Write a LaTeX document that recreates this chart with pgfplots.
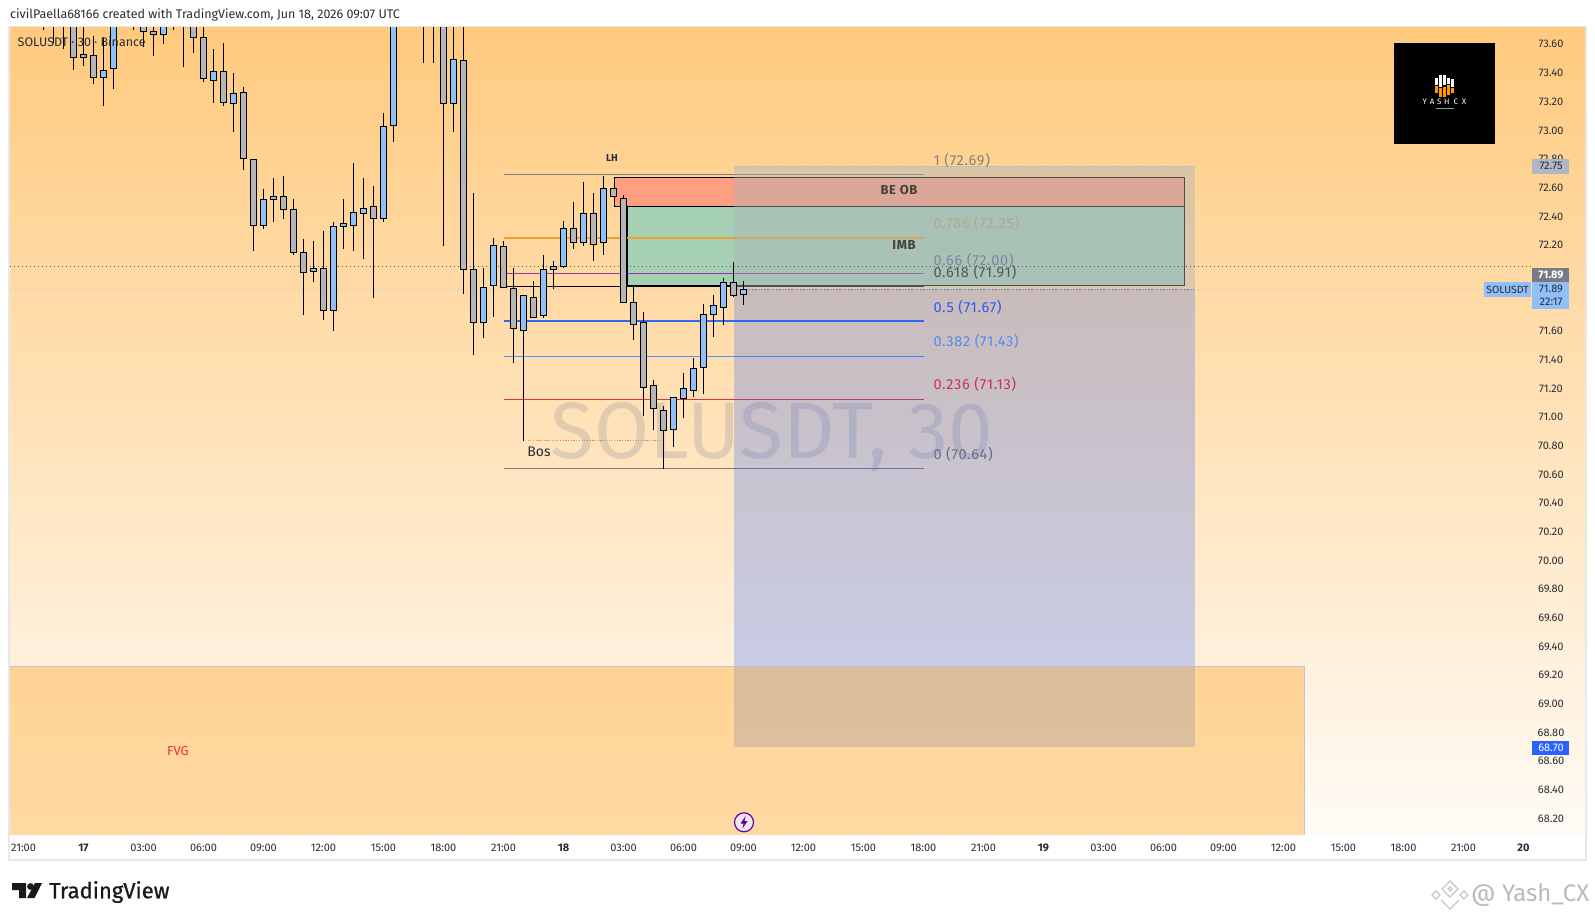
\documentclass[border=0pt]{standalone}
\usepackage{fontspec}
\setmainfont{Fira Sans}
\newfontfamily\fibfont[LetterSpace=5]{Fira Sans}
\newfontfamily\tvfont[FakeBold=0.7]{Fira Sans}
\usepackage{pgfplots}
\pgfplotsset{compat=1.18}
\definecolor{bgtop}{RGB}{255,202,126}
\definecolor{bgbot}{RGB}{255,251,246}
\definecolor{cblue}{RGB}{144,191,249}
\definecolor{cgray}{RGB}{181,181,184}
\definecolor{tv}{RGB}{41,98,255}
\definecolor{fgray}{RGB}{120,123,134}
\definecolor{ink}{RGB}{40,44,54}
\definecolor{lineorange}{RGB}{240,160,50}
\definecolor{linepurple}{RGB}{156,50,176}
\definecolor{lineblue}{RGB}{50,105,240}
\definecolor{linesky}{RGB}{85,145,250}
\definecolor{linered}{RGB}{225,50,60}
\definecolor{lblone}{RGB}{130,130,130}
\definecolor{lblorange}{RGB}{182,165,140}
\definecolor{lblpurple}{RGB}{130,130,160}
\definecolor{lblblack}{RGB}{85,85,90}
\definecolor{lblblue}{RGB}{40,90,240}
\definecolor{lblsky}{RGB}{80,140,240}
\definecolor{lblred}{RGB}{200,50,90}
\definecolor{lblzero}{RGB}{105,110,135}
\definecolor{lblbox}{RGB}{70,65,60}
\definecolor{fvgred}{RGB}{240,50,50}
\definecolor{obfill}{RGB}{255,158,128}
\definecolor{imbfill}{RGB}{165,208,179}
\definecolor{riskfill}{RGB}{172,180,188}
\definecolor{fvgfill}{RGB}{255,162,24}
\definecolor{edgeblue}{RGB}{175,185,220}
\definecolor{fvgedge}{RGB}{190,195,215}
\definecolor{wmark}{RGB}{118,123,146}
\definecolor{bosdot}{RGB}{245,130,80}
\newcommand\fs[1]{\fontsize{#1}{#1}\selectfont}
% candle: index, open, high, low, close
\newcommand\wick[3]{\addplot[black,line width=1pt] coordinates {(#1,#2)(#1,#3)};}
\newcommand\up[5]{\wick{#1}{#3}{#4}\pgfmathsetmacro\xl{#1-0.29}\pgfmathsetmacro\xr{#1+0.29}\addplot[fill=cblue,draw=black,line width=1pt] coordinates {(\xl,#2)(\xr,#2)(\xr,#5)(\xl,#5)} -- cycle;}
\newcommand\dn[5]{\wick{#1}{#3}{#4}\pgfmathsetmacro\xl{#1-0.29}\pgfmathsetmacro\xr{#1+0.29}\addplot[fill=cgray,draw=black,line width=1pt] coordinates {(\xl,#2)(\xr,#2)(\xr,#5)(\xl,#5)} -- cycle;}
% zone: options, x0, x1, y0, y1
\newcommand\zone[5]{\addplot[#1] coordinates {(#2,#4)(#3,#4)(#3,#5)(#2,#5)} -- cycle;}
\newcommand\fib[2]{\addplot[draw=#2,line width=1.25pt] coordinates {(48,#1)(90.08,#1)};}
\newcommand\fiblabel[3]{\node[anchor=west,inner sep=0,text=#1] at (axis cs:90.98,#2) {\fibfont\fs{14.5}#3};}
\begin{document}
\begin{tikzpicture}[x=1pt,y=-1pt]
\path[use as bounding box,fill=white] (0,0) rectangle (1595,921);
\draw[color=black!9,line width=1.5pt] (9,27) rectangle (1586,860);
\begin{axis}[
  at={(10pt,-835pt)},anchor=south west,scale only axis,width=1575pt,height=808pt,
  xmin=-1.35,xmax=156.15,ymin=68.0861,ymax=73.7206,
  axis line style={draw=none},major tick length=0pt,tick style={draw=none},
  axis background/.style={shade,top color=bgtop,bottom color=bgbot},
  ytick={68.2,68.4,68.6,68.8,69,69.2,69.4,69.6,69.8,70,70.2,70.4,70.6,70.8,71,71.2,71.4,71.6,71.8,72,72.2,72.4,72.6,72.8,73,73.2,73.4,73.6},
  yticklabel pos=right,
  yticklabel style={anchor=center,xshift=-34pt,font=\fs{11},text=ink,/pgf/number format/.cd,fixed,fixed zerofill,precision=2,assume math mode=true},
  xtick={0,6,12,18,24,30,36,42,48,54,60,66,72,78,84,90,96,102,108,114,120,126,132,138,144,150},
  xticklabels={21:00,\textbf{17},03:00,06:00,09:00,12:00,15:00,18:00,21:00,\textbf{18},03:00,06:00,09:00,12:00,15:00,18:00,21:00,\textbf{19},03:00,06:00,09:00,12:00,15:00,18:00,21:00,\textbf{20}},
  xticklabel style={anchor=center,yshift=-13pt,font=\fs{11},text=ink},
]
% order block and imbalance
\zone{fill=obfill,draw=black,line width=1pt}{59.08}{116.12}{72.472}{72.673}
\zone{fill=imbfill,draw=black,line width=1pt}{60.38}{116.12}{71.919}{72.472}
% fibonacci levels
\fib{72.69}{fgray}
\fib{72.25}{lineorange}
\fib{72.00}{linepurple}
\fib{71.91}{black}
\fib{71.67}{lineblue}
\fib{71.425}{linesky}
\fib{71.125}{linered}
\fib{70.64}{fgray}
\addplot[draw=bosdot,line width=1pt,dash pattern=on 1.2pt off 1.5pt] coordinates {(50.4,70.836)(63.8,70.836)};
% watermark
\node[anchor=base,text=wmark,text opacity=.22] at (axis cs:74.85,70.715) {\fs{80}SOLUSDT, 30};
% long position tool
\zone{fill=riskfill,fill opacity=.43,draw=none}{71.02}{117.15}{71.89}{72.75}
\zone{fill=tv,fill opacity=.25,draw=none}{71.02}{117.15}{68.70}{71.89}
\addplot[draw=edgeblue,line width=.8pt,dash pattern=on 2pt off 1pt] coordinates {(71.02,72.75)(117.15,72.75)};
\addplot[draw=fgray,line width=.8pt,dash pattern=on 2pt off 1pt] coordinates {(71.02,71.89)(117.15,71.89)};
% fair value gap
\zone{fill=fvgfill,fill opacity=.37,draw=none}{-1.35}{128.08}{68.0861}{69.265}
\addplot[draw=fvgedge,line width=.8pt] coordinates {(-1.35,69.265)(128.08,69.265)(128.08,68.0861)};
% labels
\fiblabel{lblone}{72.793}{1 (72.69)}
\fiblabel{lblorange}{72.354}{0.786 (72.25)}
\fiblabel{lblpurple}{72.096}{0.66 (72.00)}
\fiblabel{lblblack}{72.012}{0.618 (71.91)}
\fiblabel{lblblue}{71.768}{0.5 (71.67)}
\fiblabel{lblsky}{71.531}{0.382 (71.43)}
\fiblabel{lblred}{71.231}{0.236 (71.13)}
\fiblabel{lblzero}{70.743}{0 (70.64)}
\node[text=ink,font=\fs{10}\bfseries] at (axis cs:58.85,72.807) {LH};
\node[text=ink,font=\fs{14}] at (axis cs:51.55,70.757) {Bos};
\node[text=lblbox] at (axis cs:87.55,72.584) {\fibfont\fs{13}\bfseries BE OB};
\node[text=lblbox] at (axis cs:88.05,72.20) {\fibfont\fs{13}\bfseries IMB};
\node[text=fvgred,font=\fs{13}] at (axis cs:15.45,68.67) {FVG};
% price lines
\addplot[draw=black!65,line width=1pt,dash pattern=on 1pt off 3pt] coordinates {(-1.35,72.05)(150.8,72.05)};
\addplot[draw=cblue,line width=1pt,dash pattern=on 1pt off 3pt] coordinates {(-1.35,71.89)(146,71.89)};
% candles: index, open, high, low, close
\dn{2}{73.95}{74.00}{73.70}{73.85}
\dn{3}{73.95}{74.00}{73.61}{73.85}
\dn{4}{73.95}{74.00}{73.57}{73.85}
\dn{5}{73.85}{74.00}{73.42}{73.51}
\dn{6}{73.53}{73.90}{73.45}{73.51}
\dn{7}{73.52}{73.66}{73.32}{73.37}
\up{8}{73.37}{73.65}{73.17}{73.42}
\up{9}{73.43}{74.00}{73.29}{73.90}
\up{11}{73.80}{73.95}{73.70}{73.90}
\dn{12}{73.85}{73.95}{73.58}{73.69}
\dn{13}{73.69}{73.85}{73.52}{73.67}
\up{14}{73.67}{73.90}{73.60}{73.80}
\up{15}{73.80}{74.00}{73.70}{73.90}
\up{16}{73.74}{74.00}{73.44}{73.90}
\dn{17}{73.85}{73.95}{73.54}{73.65}
\dn{18}{73.65}{73.80}{73.34}{73.36}
\up{19}{73.35}{73.565}{73.19}{73.41}
\dn{20}{73.41}{73.61}{73.17}{73.195}
\up{21}{73.19}{73.40}{72.99}{73.26}
\dn{22}{73.265}{73.30}{72.725}{72.805}
\dn{23}{72.80}{72.80}{72.16}{72.335}
\up{24}{72.335}{72.59}{72.31}{72.52}
\up{25}{72.52}{72.665}{72.36}{72.54}
\dn{26}{72.54}{72.685}{72.38}{72.45}
\dn{27}{72.45}{72.52}{72.13}{72.15}
\dn{28}{72.15}{72.24}{71.71}{72.01}
\up{29}{72.015}{72.225}{71.94}{72.04}
\dn{30}{72.04}{72.295}{71.68}{71.745}
\up{31}{71.745}{72.36}{71.60}{72.33}
\up{32}{72.33}{72.52}{72.17}{72.35}
\up{33}{72.335}{72.77}{72.16}{72.43}
\up{34}{72.42}{72.665}{72.105}{72.455}
\dn{35}{72.47}{72.61}{71.83}{72.385}
\up{36}{72.385}{73.12}{72.36}{73.03}
\up{37}{73.035}{74.00}{72.92}{73.90}
\dn{40}{73.90}{74.00}{73.47}{73.80}
\dn{41}{73.90}{74.00}{73.47}{73.80}
\dn{42}{73.90}{74.00}{72.195}{73.188}
\up{43}{73.188}{74.00}{72.99}{73.495}
\dn{44}{73.488}{74.00}{71.86}{72.03}
\dn{45}{72.03}{72.56}{71.43}{71.66}
\up{46}{71.66}{72.04}{71.55}{71.905}
\up{47}{71.92}{72.25}{71.70}{72.195}
\dn{48}{72.19}{72.225}{71.905}{71.905}
\dn{49}{71.90}{72.04}{71.38}{71.62}
\up{50}{71.605}{71.85}{70.835}{71.85}
\dn{51}{71.835}{71.95}{71.695}{71.695}
\up{52}{71.71}{72.13}{71.69}{72.03}
\up{53}{72.03}{72.09}{71.895}{72.05}
\up{54}{72.05}{72.365}{72.04}{72.316}
\dn{55}{72.316}{72.50}{72.17}{72.22}
\up{56}{72.22}{72.637}{72.195}{72.42}
\dn{57}{72.42}{72.56}{72.09}{72.205}
\up{58}{72.22}{72.68}{72.13}{72.595}
\dn{59}{72.595}{72.595}{72.54}{72.54}
\dn{60}{72.525}{72.546}{71.80}{71.80}
\dn{61}{71.80}{71.917}{71.54}{71.647}
\dn{62}{71.66}{71.73}{71.01}{71.207}
\dn{63}{71.22}{71.256}{70.91}{71.06}
\dn{64}{71.047}{71.075}{70.64}{70.907}
\up{65}{70.915}{71.138}{70.794}{71.138}
\up{66}{71.13}{71.305}{70.996}{71.20}
\up{67}{71.187}{71.41}{71.142}{71.34}
\up{68}{71.347}{71.786}{71.163}{71.717}
\up{69}{71.717}{71.85}{71.56}{71.78}
\up{70}{71.765}{71.968}{71.645}{71.94}
\dn{71}{71.94}{72.08}{71.84}{71.85}
\up{72}{71.856}{71.947}{71.784}{71.89}
\end{axis}
% chart furniture, in picture pixels
\node[anchor=west,text=ink,font=\fs{12.5},inner sep=0] at (10,15) {civilPaella68166 created with TradingView.com, Jun 18, 2026 09:07 UTC};
\node[anchor=west,text=ink,font=\fs{12.5},inner sep=0] at (17.5,42) {SOLUSDT · 30 · Binance};
% logo
\fill[black] (1394,43) rectangle (1495,144);
\foreach \x/\a/\b/\c/\d in {1435/78/85/86/93,1439/75/87/88/97,1443/75/85/87/97,1447/78/84/85/95,1451/79/87/88/93}{
  \fill[white] (\x,\a) rectangle (\x+3,\b);
  \fill[orange!80!yellow] (\x,\c) rectangle (\x+3,\d);
}
\node[text=white] at (1444.5,101.7) {\fs{8}Y\,\,A\,\,S\,\,H\,\,\,C\,\,\,X};
\fill[white!60!black] (1436,107.5) rectangle (1454,108.2);
% price tags
\fill[color={rgb,255:red,178;green,181;blue,196}] (1532,159) rectangle (1569,173.7);
\node[text=ink,font=\fs{11}] at (1551,166.3) {72.75};
\fill[fgray] (1532,268) rectangle (1569,282);
\node[text=white,font=\fs{11}\bfseries] at (1551,275.3) {71.89};
\fill[cblue] (1532,282) rectangle (1569,309);
\node[text=ink,font=\fs{11}] at (1551,289.3) {71.89};
\node[text=ink,font=\fs{11}] at (1551,302) {22:17};
\fill[cblue] (1484,282.3) rectangle (1531,296.7);
\node[text=ink,font=\fs{10.5}] at (1507.5,289.5) {SOLUSDT};
\fill[tv] (1532,740.5) rectangle (1569,755);
\node[text=white,font=\fs{11}] at (1551,747.7) {68.70};
% event marker
\draw[color=violet!80!blue,line width=1.2pt,fill=white!90!violet] (744,822.3) circle (9.5);
\fill[color=violet!80!blue] (745.5,816) -- (740.5,823.5) -- (743.5,823.5) -- (742.5,828.5) -- (747.5,821) -- (744.5,821) -- cycle;
% TradingView logo
\fill[black!90] (12,883) -- (26,883) -- (26,898) -- (19,898) -- (19,890) -- (12,890) -- cycle;
\fill[black!90] (30.5,886.5) circle (3.4);
\fill[black!90] (35,883) -- (42,883) -- (34.5,898) -- (27,898) -- cycle;
\node[anchor=west,text=black!90,inner sep=0] at (49,892) {\tvfont\fs{22}TradingView};
% Binance-square style mark
\begin{scope}[color=black!22,line width=1.2pt]
\draw (1450,881) -- (1458,889) -- (1450,897) -- (1442,889) -- cycle;
\draw (1450,887) -- (1452,889) -- (1450,891) -- (1448,889) -- cycle;
\draw (1436,891) -- (1440,895) -- (1436,899) -- (1432,895) -- cycle;
\draw (1464,891) -- (1468,895) -- (1464,899) -- (1460,895) -- cycle;
\draw (1441,900) -- (1450,909) -- (1459,900);
\end{scope}
\node[anchor=west,text=black!27,font=\fs{24},inner sep=0] at (1471,895) {@ Yash\_CX};
\end{tikzpicture}
\end{document}
